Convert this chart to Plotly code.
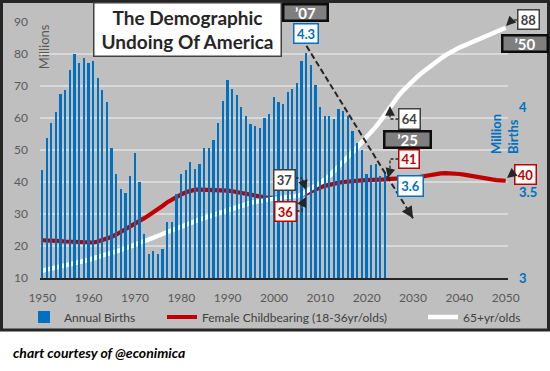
import plotly.graph_objects as go

# ---------------- data ----------------
birth_years = list(range(1950, 2025))
annual_births = [3.63, 3.82, 3.91, 3.97, 4.08, 4.10, 4.22, 4.31, 4.26, 4.29,
                 4.26, 4.27, 4.17, 4.10, 4.03, 3.76, 3.61, 3.52, 3.50, 3.60,
                 3.73, 3.56, 3.26, 3.14, 3.16, 3.14, 3.17, 3.33, 3.33, 3.49,
                 3.61, 3.63, 3.68, 3.64, 3.67, 3.76, 3.76, 3.81, 3.91, 4.04,
                 4.16, 4.11, 4.07, 4.00, 3.95, 3.90, 3.89, 3.88, 3.94, 3.96,
                 4.06, 4.03, 4.02, 4.09, 4.11, 4.14, 4.27, 4.32, 4.25, 4.13,
                 4.00, 3.95, 3.95, 3.93, 3.99, 3.98, 3.95, 3.86, 3.79, 3.75,
                 3.61, 3.66, 3.67, 3.60, 3.62]

pop_years = list(range(1950, 2051))
female_18_36 = [21.8, 21.8, 21.7, 21.6, 21.5, 21.4, 21.3, 21.2, 21.1, 21.0,
                21.0, 21.1, 21.4, 21.8, 22.3, 22.9, 23.6, 24.4, 25.3, 26.2,
                27.1, 27.9, 28.7, 29.6, 30.5, 31.5, 32.6, 33.7, 34.6, 35.4,
                36.1, 36.8, 37.3, 37.6, 37.6, 37.6, 37.6, 37.6, 37.5, 37.4,
                37.3, 37.1, 36.8, 36.4, 36.1, 35.8, 35.6, 35.4, 35.2, 35.1,
                35.0, 35.0, 35.0, 35.1, 35.3, 35.6, 36.0, 36.4, 37.1, 37.7,
                38.3, 38.8, 39.2, 39.5, 39.8, 40.0, 40.2, 40.3, 40.4, 40.5,
                40.6, 40.6, 40.7, 40.7, 40.8, 41.0, 41.0, 41.1, 41.1, 41.2,
                41.3, 41.5, 41.8, 42.1, 42.4, 42.6, 42.7, 42.8, 42.8, 42.7,
                42.5, 42.3, 42.0, 41.7, 41.4, 41.2, 41.0, 40.8, 40.6, 40.5,
                40.4]
age_65_plus = [12.3, 12.6, 12.9, 13.2, 13.6, 13.9, 14.3, 14.6, 15.0, 15.3,
               15.7, 16.1, 16.5, 16.9, 17.4, 17.8, 18.3, 18.8, 19.3, 19.8,
               20.3, 20.8, 21.4, 22.0, 22.6, 23.2, 23.8, 24.4, 25.0, 25.6,
               26.2, 26.7, 27.3, 27.8, 28.3, 28.8, 29.3, 29.8, 30.3, 30.8,
               31.3, 31.8, 32.2, 32.7, 33.1, 33.5, 33.8, 34.1, 34.4, 34.6,
               34.8, 34.9, 35.0, 35.1, 35.3, 35.6, 36.1, 37.0, 37.7, 38.5,
               39.5, 40.7, 42.0, 43.4, 44.9, 46.4, 47.9, 49.4, 50.9, 52.4,
               54.0, 55.6, 57.3, 59.2, 61.2, 63.6, 65.5, 67.2, 68.8, 70.3,
               71.7, 73.0, 74.2, 75.4, 76.5, 77.6, 78.6, 79.6, 80.5, 81.3,
               82.0, 82.6, 83.2, 83.8, 84.4, 85.0, 85.7, 86.3, 86.9, 87.5,
               88.2]

trend_years = [2007, 2030]
trend_births = [4.36, 3.35]

x_tick_vals = [1950, 1960, 1970, 1980, 1990, 2000, 2010, 2020, 2030, 2040, 2050]
left_tick_vals = [10, 20, 30, 40, 50, 60, 70, 80, 90]
right_tick_vals = [3, 3.5, 4]
right_tick_text = ["3", "3.5", "4"]

year_tags = ["\u201907", "\u201925", "\u201950"]
callout_births = ["4.3", "3.6"]
callout_female = ["36", "41", "40"]
callout_elderly = ["37", "64", "88"]

# ---------------- style ----------------
FONT = "Lato"
BLUE = "#0070C0"
RED = "#C00000"
DARK = "#262626"
GRAY_TXT = "#595959"
BG = "#BFBFBF"
GRID = "#D9D9D9"

L, R, T, B = 40, 508, 22, 278   # plot area in pixels
W, H = 550, 371


def px_x(px):
    return (px - L) / (R - L)


def px_y(py):
    return (B - py) / (B - T)


fig = go.Figure()

fig.add_trace(go.Bar(
    x=birth_years, y=annual_births, name="Annual Births", yaxis="y2",
    marker=dict(color=BLUE, line=dict(width=0)), width=0.38,
    legend="legend",
))
fig.add_trace(go.Scatter(
    x=pop_years, y=female_18_36, name="Female Childbearing (18-36yr/olds)",
    mode="lines", line=dict(color=RED, width=4.2), legend="legend2",
))
fig.add_trace(go.Scatter(
    x=pop_years, y=age_65_plus, name="65+yr/olds",
    mode="lines", line=dict(color="white", width=4.5), legend="legend3",
))
fig.add_trace(go.Scatter(
    x=trend_years, y=trend_births, yaxis="y2", mode="lines",
    line=dict(color=DARK, width=2, dash="6px,3px"), showlegend=False,
    hoverinfo="skip",
))

shapes = [
    dict(type="rect", xref="paper", yref="paper", layer="below",
         x0=px_x(1.5), x1=px_x(548.5), y0=px_y(1.5), y1=px_y(330),
         fillcolor=BG, line=dict(color=DARK, width=3)),
]


def dashed(points):
    path = "M" + " L".join(f"{px_x(a):.5f},{px_y(b):.5f}" for a, b in points)
    return dict(type="path", xref="paper", yref="paper", path=path,
                line=dict(color=DARK, width=1.3, dash="3px,2px"), layer="above")


shapes += [
    dashed([(517, 20), (512, 20)]),
    dashed([(398.5, 119), (390, 119), (390, 115)]),
    dashed([(398.5, 159), (390, 159), (390, 170)]),
    dashed([(513.5, 174), (512, 174)]),
    dashed([(295.5, 178), (302, 178)]),
    dashed([(296.5, 211), (302, 211), (302, 205)]),
]

annotations = []


def box(text, cx, cy, w, h, fg, bg, border, bw, size):
    annotations.append(dict(
        xref="paper", yref="paper", x=px_x(cx), y=px_y(cy),
        xanchor="center", yanchor="middle", text=f"<b>{text}</b>",
        showarrow=False, width=w, height=h, bgcolor=bg, bordercolor=border,
        borderwidth=bw, borderpad=0, align="center",
        font=dict(family=FONT, size=size, color=fg)))


def arrow(tail, tip):
    annotations.append(dict(
        xref="paper", yref="paper", x=px_x(tip[0]), y=px_y(tip[1]),
        ax=tail[0] - tip[0], ay=tail[1] - tip[1], axref="pixel", ayref="pixel",
        text="", showarrow=True, arrowhead=2, arrowsize=1.3, arrowwidth=1.5,
        arrowcolor=DARK, standoff=0))


# title
box("The Demographic<br>Undoing Of America", 187.5, 29, 186, 52, DARK, "white", "#404040", 1.5, 19)

# year tags
box(year_tags[0], 305.5, 12, 42, 14, "white", "#7F7F7F", "#0D0D0D", 2.5, 15)
box(year_tags[1], 407, 139, 44, 14, "white", "#7F7F7F", "#0D0D0D", 2.5, 15)
box(year_tags[2], 524.5, 43, 43, 14, "white", "#7F7F7F", "#0D0D0D", 2.5, 15)

# value callouts
box(callout_births[0], 305.5, 33, 23, 18, BLUE, "white", BLUE, 1.5, 13)
box(callout_births[1], 410.7, 185.5, 24, 19, BLUE, "white", BLUE, 1.5, 13)
box(callout_female[0], 285, 211, 20, 18, RED, "white", RED, 1.5, 13)
box(callout_female[1], 409, 159, 19, 17, RED, "white", RED, 1.5, 13)
box(callout_female[2], 525, 174, 20, 18, RED, "white", RED, 1.5, 13)
box(callout_elderly[0], 284, 179.5, 20, 19, "#404040", "white", "#404040", 1.5, 13)
box(callout_elderly[1], 409.5, 119, 20, 19, "#404040", "white", "#404040", 1.5, 13)
box(callout_elderly[2], 528, 19.5, 20, 18, "#404040", "white", "#404040", 1.5, 13)

# arrow heads
arrow((512, 20), (506, 26))
arrow((390, 115), (390, 106))
arrow((390, 170), (388, 178))
arrow((512, 174), (507, 178))
arrow((302, 178), (306, 190))
arrow((302, 205), (306, 197))
annotations.append(dict(
    xref="x", yref="y2", x=trend_years[1], y=trend_births[1], ax=-5, ay=-8,
    axref="pixel", ayref="pixel", text="", showarrow=True, arrowhead=2,
    arrowsize=1.3, arrowwidth=1.8, arrowcolor=DARK, standoff=0))

# axis titles
annotations.append(dict(
    xref="paper", yref="paper", x=px_x(43.5), y=px_y(46.7), text="Millions",
    textangle=-90, showarrow=False, xanchor="center", yanchor="middle",
    font=dict(family=FONT, size=13, color=GRAY_TXT)))
annotations.append(dict(
    xref="paper", yref="paper", x=px_x(504), y=px_y(134), text="<b>Million<br>Births</b>",
    textangle=-90, showarrow=False, xanchor="center", yanchor="middle", align="left",
    font=dict(family=FONT, size=13, color=BLUE)))

# footer
annotations.append(dict(
    xref="paper", yref="paper", x=px_x(10.5), y=px_y(352), xanchor="left",
    yanchor="middle", showarrow=False,
    text="<b><i>chart courtesy of @econimica</i></b>",
    font=dict(family=FONT, size=14, color="black")))

legend_common = dict(orientation="h", yanchor="middle", xanchor="left",
                     xref="container", yref="container",
                     bgcolor="rgba(0,0,0,0)", borderwidth=0,
                     font=dict(family=FONT, size=12, color="#404040"))
LEG_Y = 1 - 317 / H

fig.update_layout(
    template="none",
    width=W, height=H,
    margin=dict(l=L, r=W - R, t=T, b=H - B, pad=0, autoexpand=False),
    paper_bgcolor="white",
    plot_bgcolor="rgba(0,0,0,0)",
    font=dict(family=FONT, size=12, color=GRAY_TXT),
    bargap=0,
    xaxis=dict(range=[1949.5, 2050.5], tickvals=x_tick_vals, showgrid=False,
               zeroline=False, showline=True, linecolor=DARK, linewidth=2,
               ticks="", ticklabelstandoff=8, automargin=False,
               tickfont=dict(family=FONT, size=12, color=GRAY_TXT)),
    yaxis=dict(range=[10, 90], tickvals=left_tick_vals, showgrid=True,
               gridcolor=GRID, gridwidth=1.5, zeroline=False, showline=False,
               ticks="", ticklabelstandoff=11, automargin=False,
               tickfont=dict(family=FONT, size=12, color=GRAY_TXT)),
    yaxis2=dict(range=[3, 4.5], overlaying="y", side="right",
                tickvals=right_tick_vals, ticktext=right_tick_text,
                showgrid=False, zeroline=False, showline=False, ticks="",
                ticklabelstandoff=10, automargin=False,
                tickfont=dict(family=FONT, size=13, color=BLUE, weight="bold")),
    legend=dict(x=24 / W, y=LEG_Y, **legend_common),
    legend2=dict(x=162 / W, y=LEG_Y, **legend_common),
    legend3=dict(x=423 / W, y=LEG_Y, **legend_common),
    shapes=shapes,
    annotations=annotations,
    showlegend=True,
)

fig.write_html(
    "out.html",
    config={"displayModeBar": False},
    post_script="document.body.style.margin='0';document.body.style.overflow='hidden';",
)
